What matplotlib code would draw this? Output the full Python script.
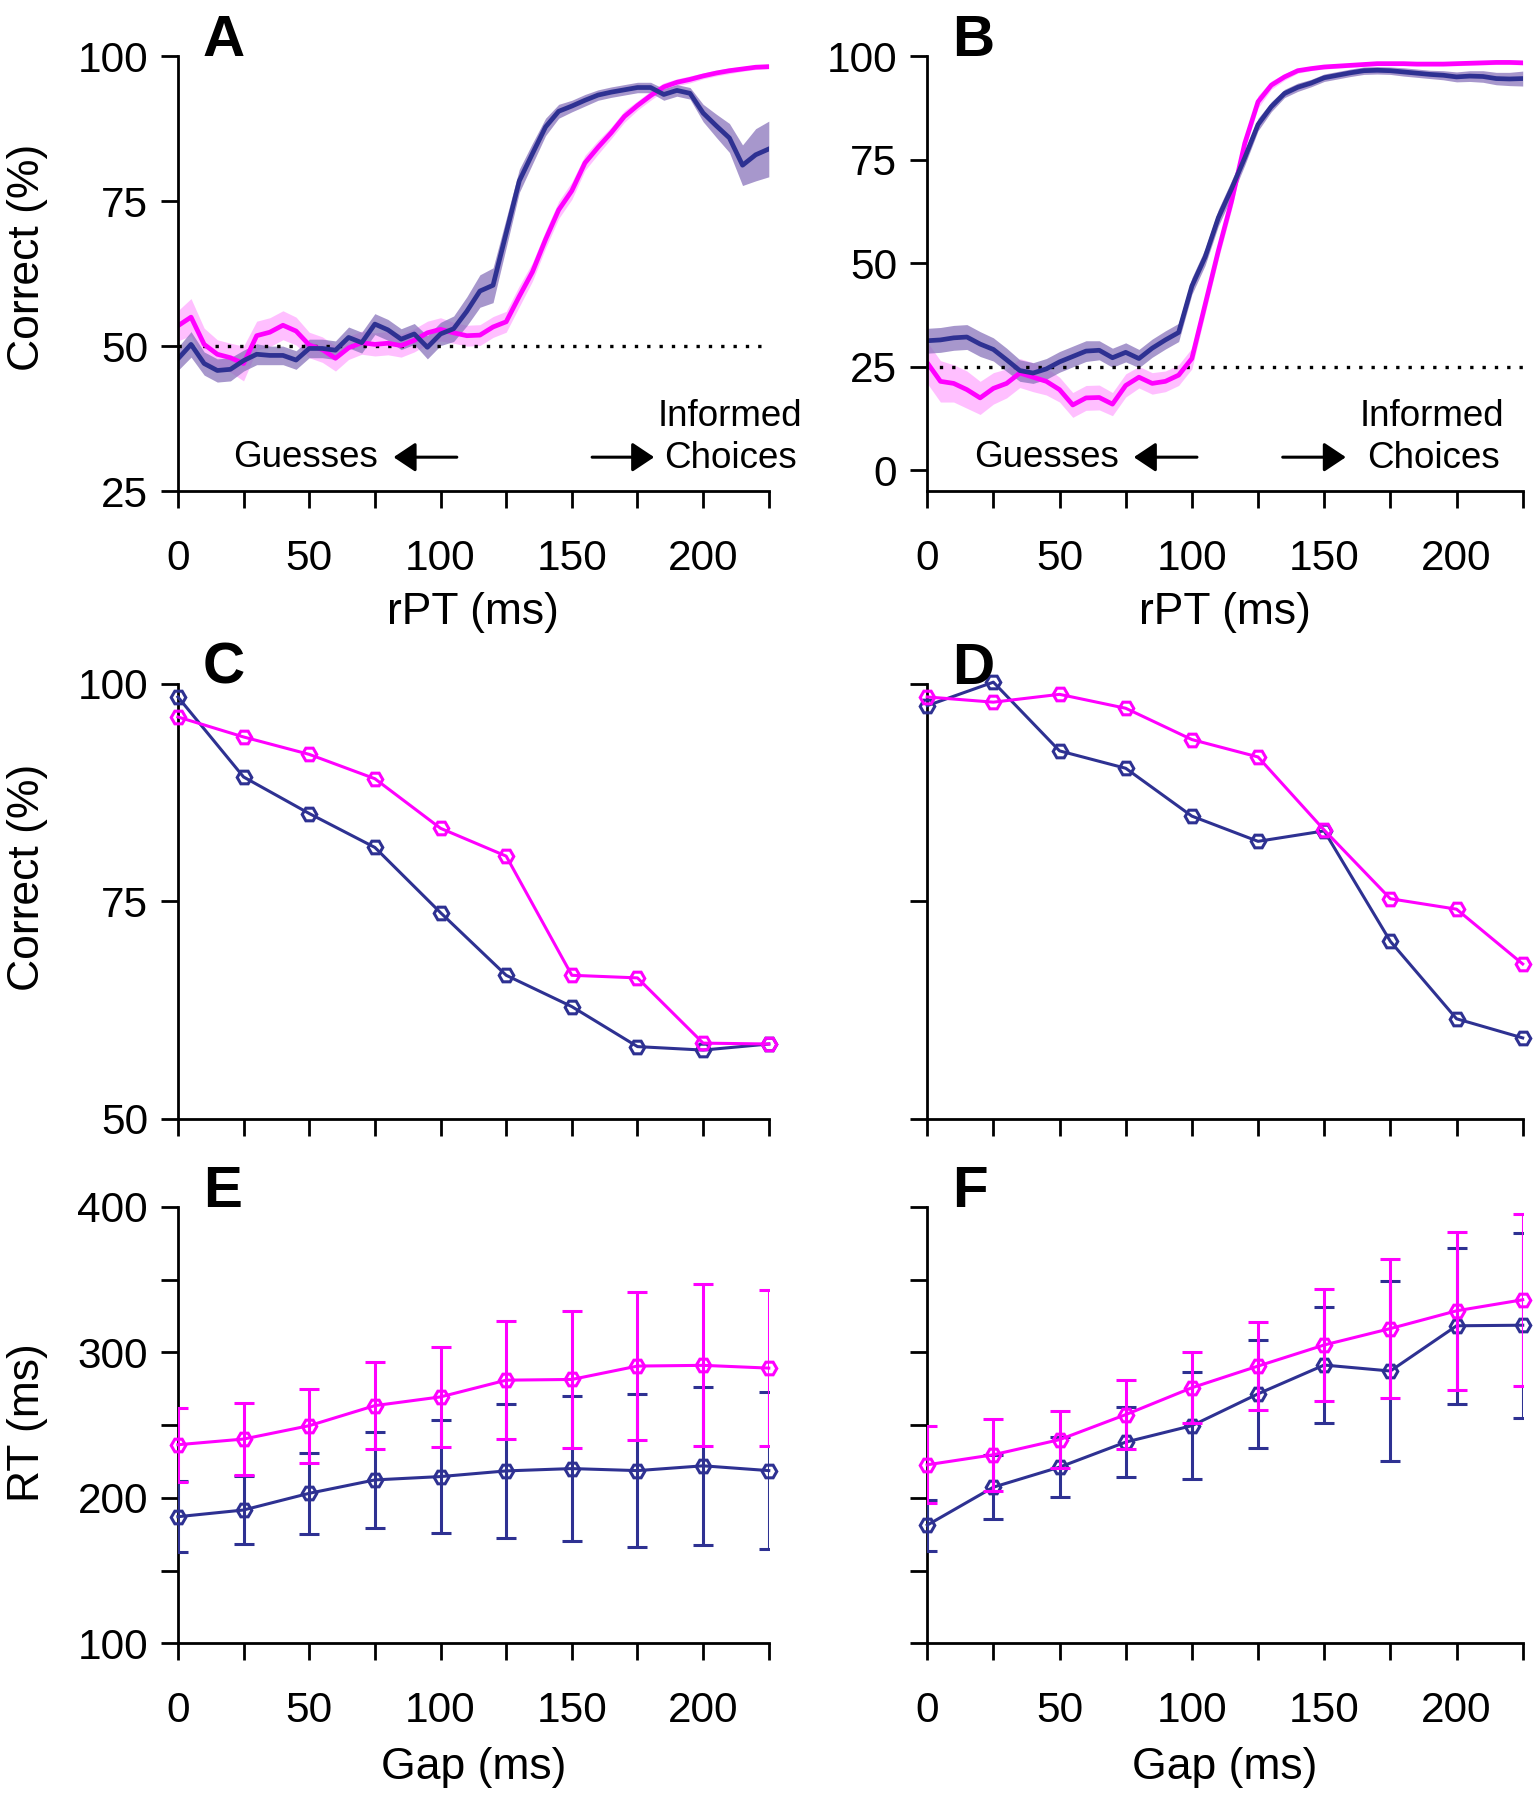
import matplotlib
matplotlib.use("Agg")
import matplotlib.pyplot as plt
import numpy as np

plt.rcParams['font.family'] = ['Liberation Sans', 'DejaVu Sans']

NAVY = '#2E3192'
MAG = '#FF00FF'
NAVY_BAND = '#8A74BC'
MAG_BAND = '#FFB0FF'

# ---------------- Panel A / B: running accuracy vs rPT ----------------
rpt_ms = list(range(0, 230, 5))

a_navy = [47.8, 50.3, 47.0, 45.8, 46.0, 47.5, 48.6, 48.4, 48.4, 47.6, 49.6,
          49.6, 49.3, 51.5, 50.6, 53.8, 52.8, 51.2, 52.1, 49.8, 52.1,
          53.0, 56.0, 59.5, 60.5, 69.5, 78.5, 83.2, 87.8, 90.5, 91.4,
          92.4, 93.3, 93.8, 94.2, 94.6, 94.6, 93.4, 94.1, 93.6, 90.2,
          88.0, 85.9, 81.2, 83.0, 84.0]
a_navy_err = [2.0, 2.2, 2.0, 2.0, 2.0, 1.8, 1.8, 1.6, 1.6, 1.6, 1.6,
              1.6, 1.6, 1.8, 1.8, 1.8, 1.8, 1.8, 1.8, 2.0, 2.0,
              2.2, 2.5, 2.8, 3.0, 2.5, 2.0, 1.8, 1.5, 1.2, 1.0,
              1.0, 0.9, 0.9, 0.9, 0.9, 0.9, 1.0, 1.0, 1.0, 1.5,
              2.0, 2.5, 3.5, 4.5, 4.8]
a_mag = [53.5, 55.0, 50.3, 48.6, 48.0, 47.0, 51.8, 52.4, 53.6, 52.6, 50.2,
         49.4, 47.9, 49.7, 50.6, 50.3, 50.5, 50.1, 51.0, 52.3, 52.9,
         52.3, 51.8, 51.9, 53.3, 54.2, 58.6, 62.8, 68.4, 73.5, 76.8,
         81.6, 84.3, 86.8, 89.6, 91.5, 93.2, 94.7, 95.5, 96.0, 96.6,
         97.1, 97.5, 97.8, 98.1, 98.2]
a_mag_err = [2.6, 3.2, 2.8, 2.5, 2.5, 3.0, 2.5, 2.5, 2.5, 2.4, 2.2,
             2.2, 2.2, 2.0, 2.0, 2.0, 2.0, 2.0, 2.0, 2.0, 2.0,
             1.8, 1.8, 1.8, 1.8, 1.8, 1.8, 1.6, 1.5, 1.5, 1.5,
             1.3, 1.2, 1.0, 1.0, 0.8, 0.8, 0.7, 0.6, 0.6, 0.5,
             0.5, 0.5, 0.4, 0.4, 0.4]

b_navy = [31.3, 31.5, 32.0, 32.2, 30.5, 29.2, 26.7, 24.1, 23.5, 24.5, 26.2,
          27.5, 28.8, 29.0, 27.2, 28.5, 27.0, 29.5, 31.5, 33.3, 44.5,
          51.5, 61.0, 68.0, 75.5, 83.5, 87.8, 91.0, 92.5, 93.5, 94.8,
          95.4, 96.0, 96.5, 96.6, 96.5, 96.2, 95.9, 95.6, 95.4, 95.0,
          95.2, 95.1, 94.6, 94.5, 94.6]
b_navy_err = [3.0, 3.0, 3.0, 3.0, 3.0, 2.8, 2.8, 2.6, 2.5, 2.5, 2.5,
              2.5, 2.5, 2.3, 2.3, 2.3, 2.2, 2.2, 2.2, 2.2, 2.0,
              2.0, 2.0, 2.0, 1.8, 1.5, 1.2, 1.0, 1.0, 0.9, 0.9,
              0.9, 0.9, 0.9, 0.9, 0.9, 1.0, 1.0, 1.0, 1.1, 1.2,
              1.3, 1.4, 1.5, 1.6, 1.8]
b_mag = [26.0, 21.5, 21.0, 19.5, 17.5, 19.8, 21.0, 23.5, 22.5, 21.5, 19.5,
         15.8, 17.5, 17.6, 16.0, 20.5, 22.5, 21.0, 21.5, 23.0, 27.0,
         40.0, 53.0, 65.0, 79.0, 89.0, 93.0, 95.0, 96.5, 97.0, 97.4,
         97.6, 97.8, 98.0, 98.2, 98.2, 98.2, 98.1, 98.1, 98.1, 98.2,
         98.3, 98.4, 98.5, 98.5, 98.4]
b_mag_err = [5.0, 5.0, 4.5, 4.5, 4.0, 3.8, 3.5, 3.5, 3.5, 3.3, 3.0,
             3.0, 3.0, 3.0, 2.8, 2.8, 2.6, 2.6, 2.5, 2.5, 2.5,
             2.2, 2.0, 2.0, 1.8, 1.5, 1.0, 0.8, 0.6, 0.5, 0.5,
             0.5, 0.5, 0.5, 0.5, 0.5, 0.5, 0.5, 0.5, 0.5, 0.5,
             0.5, 0.5, 0.5, 0.5, 0.5]

chance_a = 50
chance_b = 25

# ---------------- Panels C-F: vs gap ----------------
gap_ms = [0, 25, 50, 75, 100, 125, 150, 175, 200, 225]

c_navy = [98.5, 89.3, 85.1, 81.2, 73.7, 66.5, 62.9, 58.3, 57.9, 58.6]
c_mag = [96.2, 93.9, 91.9, 89.1, 83.4, 80.2, 66.5, 66.2, 58.7, 58.6]

d_navy = [97.5, 100.2, 92.3, 90.3, 84.8, 81.9, 83.1, 70.4, 61.5, 59.3]
d_mag = [98.5, 97.9, 98.8, 97.2, 93.6, 91.6, 83.2, 75.3, 74.1, 67.8]

e_navy = [187.0, 191.6, 203.1, 212.3, 214.6, 218.5, 220.1, 218.7, 222.0, 218.7]
e_navy_sd = [24.5, 23.4, 27.9, 32.9, 38.6, 46.0, 49.6, 52.5, 54.4, 54.0]
e_mag = [236.5, 240.4, 249.6, 263.4, 269.4, 280.9, 281.4, 290.6, 291.1, 289.2]
e_mag_sd = [25.5, 25.0, 25.5, 29.7, 34.3, 40.8, 47.2, 51.0, 55.8, 53.9]

f_navy = [181.2, 207.3, 221.1, 238.3, 249.6, 271.5, 291.3, 287.2, 318.3, 318.7]
f_navy_sd = [17.5, 21.9, 20.4, 24.1, 36.9, 37.2, 40.0, 62.1, 53.7, 63.5]
f_mag = [222.7, 229.6, 240.0, 257.2, 275.7, 290.6, 305.1, 316.4, 328.6, 336.2]
f_mag_sd = [26.5, 24.6, 19.5, 23.8, 24.3, 30.3, 38.4, 47.5, 54.5, 59.1]

x_ticks = [0, 25, 50, 75, 100, 125, 150, 175, 200, 225]
x_ticklabels = ['0', '', '50', '', '100', '', '150', '', '200', '']

# ---------------- figure ----------------
W, H = 1540, 1800
fig = plt.figure(figsize=(W / 100, H / 100), dpi=100)


def add_ax(l, r, t, b):
    return fig.add_axes([l / W, 1 - b / H, (r - l) / W, (b - t) / H])


LX0, LX1 = 177.9, 768.8
RX0, RX1 = 927.2, 1522.7
rows = [(56.2, 491.1), (683.9, 1118.8), (1207.0, 1643.2)]

axA = add_ax(LX0, LX1, *rows[0])
axB = add_ax(RX0, RX1, *rows[0])
axC = add_ax(LX0, LX1, *rows[1])
axD = add_ax(RX0, RX1, *rows[1])
axE = add_ax(LX0, LX1, *rows[2])
axF = add_ax(RX0, RX1, *rows[2])


def style(ax):
    for s in ['top', 'right']:
        ax.spines[s].set_visible(False)
    for s in ['left', 'bottom']:
        ax.spines[s].set_linewidth(2.0)
    ax.tick_params(axis='both', direction='out', length=12.5, width=2.0,
                   labelsize=30.5, color='black')
    ax.tick_params(axis='x', pad=22)
    ax.tick_params(axis='y', pad=9)
    ax.set_xlim(0, 225)
    ax.set_xticks(x_ticks)


for ax in [axA, axB, axC, axD, axE, axF]:
    style(ax)

# --- A & B
def running(ax, nv, nv_e, mg, mg_e, chance):
    x = np.array(rpt_ms, dtype=float)
    nv = np.array(nv); nv_e = np.array(nv_e)
    mg = np.array(mg); mg_e = np.array(mg_e)
    ax.fill_between(x, mg - mg_e, mg + mg_e, color=MAG_BAND, lw=0, alpha=0.8, zorder=1)
    ax.fill_between(x, nv - nv_e, nv + nv_e, color=NAVY_BAND, lw=0, alpha=0.75, zorder=1.1)
    ax.axhline(chance, color='black', lw=2.4, ls=(0, (1, 2.7)), zorder=1.5)
    ax.plot(x, mg, color=MAG, lw=3.4, zorder=2, solid_joinstyle='round')
    ax.plot(x, nv, color=NAVY, lw=3.4, zorder=2.1, solid_joinstyle='round')
    ax.set_xticklabels(x_ticklabels)
    ax.set_xlabel('rPT (ms)', fontsize=32, va='center')
    ax.xaxis.set_label_coords(0.5, -0.28)


running(axA, a_navy, a_navy_err, a_mag, a_mag_err, chance_a)
axA.set_ylim(25, 100)
axA.set_yticks([25, 50, 75, 100])
running(axB, b_navy, b_navy_err, b_mag, b_mag_err, chance_b)
axB.set_ylim(-5, 100)
axB.set_yticks([0, 25, 50, 75, 100])

axA.set_ylabel('Correct (%)', fontsize=32, va='center')
axA.yaxis.set_label_coords(-0.254, 0.538)


def guide_text(ax, gx, larr, rarr, ix):
    ax.text(gx, 0.078, 'Guesses', transform=ax.transAxes, fontsize=26.5,
            ha='left', va='center')
    ax.text(ix, 0.1715, 'Informed', transform=ax.transAxes, fontsize=26.5,
            ha='center', va='center')
    ax.text(ix + 0.002, 0.074, 'Choices', transform=ax.transAxes, fontsize=26.5,
            ha='center', va='center')
    ap = dict(arrowstyle='-|>,head_length=0.45,head_width=0.3', lw=2.2,
              color='black', shrinkA=0, shrinkB=0, mutation_scale=30)
    ax.annotate('', xy=(larr[0], 0.078), xytext=(larr[1], 0.078),
                xycoords='axes fraction', textcoords='axes fraction', arrowprops=ap)
    ax.annotate('', xy=(rarr[1], 0.078), xytext=(rarr[0], 0.078),
                xycoords='axes fraction', textcoords='axes fraction', arrowprops=ap)


guide_text(axA, 0.093, (0.365, 0.472), (0.701, 0.806), 0.934)
guide_text(axB, 0.079, (0.347, 0.453), (0.597, 0.703), 0.848)

# --- C & D
for ax, nv, mg in [(axC, c_navy, c_mag), (axD, d_navy, d_mag)]:
    ax.plot(gap_ms, nv, color=NAVY, lw=2.2, marker='H', ms=10.5, mfc='none',
            mew=2.2, clip_on=False, zorder=3)
    ax.plot(gap_ms, mg, color=MAG, lw=2.2, marker='H', ms=10.5, mfc='none',
            mew=2.2, clip_on=False, zorder=3.1)
    ax.set_ylim(50, 100)
    ax.set_yticks([50, 75, 100])
    ax.set_xticklabels([])
axD.set_yticklabels([])
axC.set_ylabel('Correct (%)', fontsize=32, va='center')
axC.yaxis.set_label_coords(-0.254, 0.554)

# --- E & F
for ax, nv, nvs, mg, mgs in [(axE, e_navy, e_navy_sd, e_mag, e_mag_sd),
                             (axF, f_navy, f_navy_sd, f_mag, f_mag_sd)]:
    for y, s, c, z in [(nv, nvs, NAVY, 3), (mg, mgs, MAG, 3.2)]:
        cont = ax.errorbar(gap_ms, y, yerr=s, color=c, lw=2.2, elinewidth=2.2,
                           capsize=7, capthick=2.2, marker='H', ms=10.5, mfc='none',
                           mew=2.2, zorder=z)
        cont[0].set_clip_on(False)
    ax.set_ylim(100, 400)
    ax.set_yticks([100, 150, 200, 250, 300, 350, 400])
    ax.set_xticklabels(x_ticklabels)
    ax.set_xlabel('Gap (ms)', fontsize=32, va='center')
    ax.xaxis.set_label_coords(0.5, -0.285)
axE.set_yticklabels(['100', '', '200', '', '300', '', '400'])
axF.set_yticklabels([])
axE.set_ylabel('RT (ms)', fontsize=32, va='center')
axE.yaxis.set_label_coords(-0.254, 0.505)

# panel letters
for ax, letter in [(axA, 'A'), (axB, 'B'), (axC, 'C'), (axD, 'D'), (axE, 'E'), (axF, 'F')]:
    ax.text(0.042, 1.0, letter, transform=ax.transAxes, fontsize=42,
            fontweight='bold', ha='left', va='baseline')

fig.savefig('out.png', dpi=100)
